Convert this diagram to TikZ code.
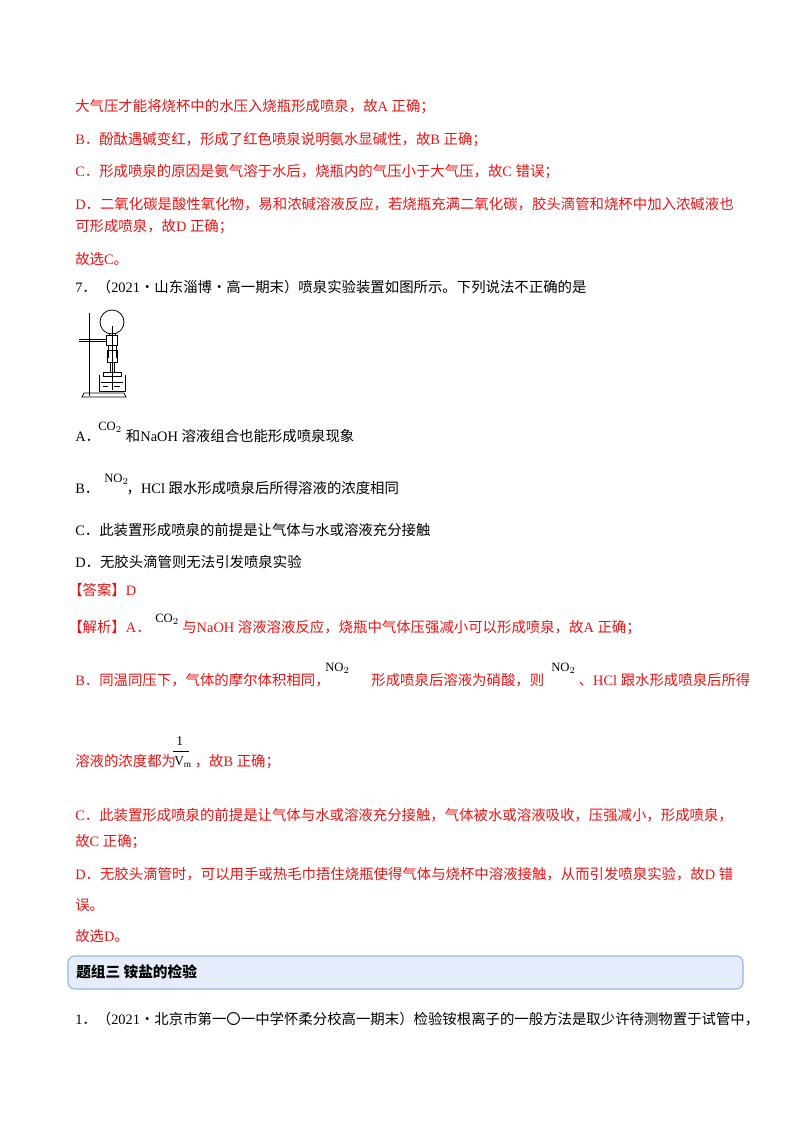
\documentclass[tikz,border=0pt]{standalone}
\usepackage{fontspec}
\setmainfont{Liberation Serif}
\newfontfamily\cjk{Noto Sans CJK SC}
\newcommand{\lt}[1]{{\fontspec{Liberation Serif}#1}}
\begin{document}
\begin{tikzpicture}[x=0.75pt,y=-0.75pt,
  t/.style={anchor=west,inner sep=0pt,font=\fontsize{10.8}{13}\selectfont\cjk},
  r/.style={t,text=redc},
  sm/.style={anchor=west,inner sep=0pt,font=\fontsize{9.5}{11}\selectfont}]
\definecolor{redc}{RGB}{235,20,20}
\definecolor{boxf}{RGB}{228,237,249}
\definecolor{boxd}{RGB}{150,180,225}
\useasboundingbox (0,0) rectangle (800,1132);
\fill[white] (0,0) rectangle (800,1132);
\node[r] (l1) at (75,107) {大气压才能将烧杯中的水压入烧瓶形成喷泉，故\lt{ A }正确；};
\node[r] (l2) at (75,140) {\lt{B}．酚酞遇碱变红，形成了红色喷泉说明氨水显碱性，故\lt{ B }正确；};
\node[r] (l3) at (75,172) {\lt{C}．形成喷泉的原因是氨气溶于水后，烧瓶内的气压小于大气压，故\lt{ C }错误；};
\node[r] (l4) at (75,204) {\lt{D}．二氧化碳是酸性氧化物，易和浓碱溶液反应，若烧瓶充满二氧化碳，胶头滴管和烧杯中加入浓碱液也};
\node[r] (l5) at (75,227) {可形成喷泉，故\lt{ D }正确；};
\node[r] (l6) at (75,259) {故选\lt{ C}。};
\node[t] (q7) at (75,287) {\lt{7}．（\lt{2021}·山东淄博·高一期末）喷泉实验装置如图所示。下列说法不正确的是};
% apparatus
\begin{scope}[line width=0.6pt]
\draw (89,313) -- (89,396);
\draw (82,397) -- (84,393) -- (124,393) -- (126,397) -- cycle;
\draw (79,339) -- (106,339); \draw (79,341)--(106,341);
\draw (106,335) rectangle (117,345);
\draw (112,322) circle (12);
\draw (109,334) -- (109,336); \draw (115,334) -- (115,336);
\draw (108,345) -- (108,358); \draw (116,345) -- (116,358);
\draw (107,350) rectangle (117,362);
\draw (110,362) -- (110,372); \draw (114,362) -- (114,372);
\draw (112,326) -- (112,390);
\draw (103,372) rectangle (121,376);
\draw (99,375) -- (99,391) -- (125,391) -- (125,375);
\draw (101,382) -- (123,382);
\draw (103,386)--(108,386) (114,386)--(120,386);
\end{scope}
\node[t] (A) at (75,436) {\lt{A}．\hspace{1.8em}和\lt{ NaOH }溶液组合也能形成喷泉现象};
\node[sm] at (98,427) {CO$_2$};
\node[t] (B) at (75,488) {\lt{B}．\hspace{1.9em}，\lt{HCl }跟水形成喷泉后所得溶液的浓度相同};
\node[sm] at (104,479) {NO$_2$};
\node[t] (C) at (75,530) {\lt{C}．此装置形成喷泉的前提是让气体与水或溶液充分接触};
\node[t] (D) at (75,562) {\lt{D}．无胶头滴管则无法引发喷泉实验};
\node[r] (ans) at (68,590) {【答案】\lt{D}};
\node[r] (jx) at (68,628) {【解析】\lt{A}．\hspace{2.2em}与\lt{ NaOH }溶液溶液反应，烧瓶中气体压强减小可以形成喷泉，故\lt{ A }正确；};
\node[sm,text=black] at (155,619) {CO$_2$};
\node[r] (b1) at (75,680) {\lt{B}．同温同压下，气体的摩尔体积相同，\hspace{2.9em}形成喷泉后溶液为硝酸，则\hspace{2.4em}、\lt{HCl }跟水形成喷泉后所得};
\node[sm,text=black] at (325,668) {NO$_2$};
\node[sm,text=black] at (551,668) {NO$_2$};
\node[r] (b2) at (75,762) {溶液的浓度都为\hspace{1.3em}，故\lt{ B }正确；};
\node[sm,text=black,font=\fontsize{10}{12}\selectfont] at (176,741) {1};
\draw (173,751) -- (189,751);
\node[sm,text=black,font=\fontsize{10}{12}\selectfont] at (174,762) {V$_{\mathrm{m}}$};
\node[r] (c1) at (75,815) {\lt{C}．此装置形成喷泉的前提是让气体与水或溶液充分接触，气体被水或溶液吸收，压强减小，形成喷泉，};
\node[r] (c2) at (75,842) {故\lt{ C }正确；};
\node[r] (d1) at (75,874) {\lt{D}．无胶头滴管时，可以用手或热毛巾捂住烧瓶使得气体与烧杯中溶液接触，从而引发喷泉实验，故\lt{ D }错};
\node[r] (d2) at (75,905) {误。};
\node[r] (d3) at (75,936) {故选\lt{ D}。};
\draw[boxd,fill=boxf,rounded corners=5pt,line width=0.8pt] (68,956) rectangle (743,989);
\node[t,font=\fontsize{11}{13}\selectfont\cjk\bfseries] (h) at (76,972) {题组三\ 铵盐的检验};
\node[t] (q1) at (75,1019) {\lt{1}．（\lt{2021}·北京市第一〇一中学怀柔分校高一期末）检验铵根离子的一般方法是取少许待测物置于试管中，};
\end{tikzpicture}
\end{document}
